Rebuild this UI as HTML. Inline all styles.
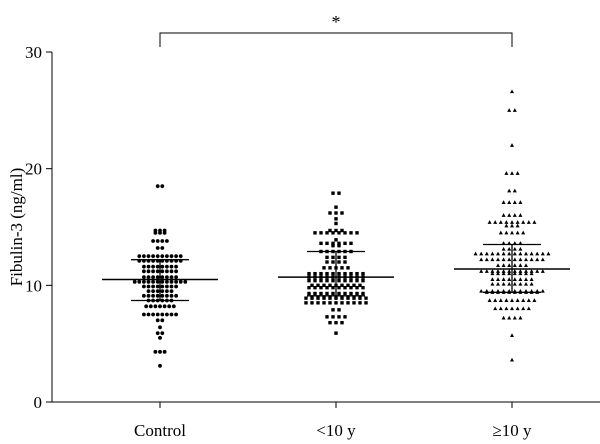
<!DOCTYPE html>
<html><head><meta charset="utf-8"><style>
body{margin:0;background:#fff}
svg{display:block;font-family:"Liberation Serif",serif}
</style></head><body>
<svg id="chart" width="600" height="444">
<g id="axes"></g>
<g id="marks"></g>
<g id="stats"></g>
<text x="22" y="227" font-size="17" text-anchor="middle" transform="rotate(-90 22 227)">Fibulin-3 (ng/ml)</text>
<path d="M160 47 V33 H512 V47" fill="none" stroke="#000" stroke-width="1"/>
<text x="336" y="28" font-size="18" text-anchor="middle">*</text>
</svg>
<script>
const categories = ["Control", "<10 y", "\u226510 y"];
const yTicks = [0, 10, 20, 30];
const ctrlVals = [18.5,14.7,14.5,13.8,13.2,12.5,12.1,11.6,11.2,10.7,10.3,9.9,9.5,9.1,8.7,8.2,7.5,7.0,6.4,5.9,5.5,4.3,3.1];
const ctrlCounts = [2,3,3,4,2,10,10,8,8,8,12,8,6,8,6,7,8,2,1,2,1,3,1];
const youngVals = [17.9,16.7,16.2,15.7,15.3,14.7,14.5,13.9,13.6,13.4,12.9,12.4,12.0,11.5,11.0,10.7,10.4,10.0,9.8,9.3,8.9,8.5,7.9,7.3,6.8,5.9];
const youngCounts = [2,1,3,1,1,3,8,1,6,2,6,4,4,5,10,10,10,9,10,10,11,11,2,4,3,1];
const oldVals = [26.6,25.0,22.0,19.6,18.1,17.1,16.0,15.4,15.1,14.5,13.6,13.1,12.7,12.2,11.7,11.2,11.0,10.5,10.1,9.5,9.4,8.7,8.0,7.2,5.7,3.6];
const oldCounts = [1,2,1,3,2,4,4,9,3,5,4,4,14,12,6,12,8,8,8,12,10,9,7,4,1,1];
const means = [10.5, 10.7, 11.4];
const upperSD = [12.2, 12.9, 13.5];
const lowerSD = [8.7, 9.1, 9.4];

const NS = "http://www.w3.org/2000/svg";
const y = v => 402 - v * 350 / 30;
const x = i => 160 + i * 176;
function mk(tag, attrs, parent){const e=document.createElementNS(NS,tag);for(const k in attrs)e.setAttribute(k,attrs[k]);parent.appendChild(e);return e;}
const axes=document.getElementById('axes'), marks=document.getElementById('marks'), stats=document.getElementById('stats');

let a=mk('line',{x1:52,y1:52,x2:52,y2:402,stroke:'#000','stroke-width':1},axes);


a=mk('line',{x1:52,y1:402,x2:600,y2:402,stroke:'#000','stroke-width':1},axes);


yTicks.forEach(t=>{
  const l=mk('line',{x1:46,y1:y(t),x2:52,y2:y(t),stroke:'#000'},axes);
  
  
  const tx=mk('text',{x:42,y:y(t)+6,'font-size':17,'text-anchor':'end'},axes);
  tx.textContent=t;
  
  
});
categories.forEach((c,i)=>{
  const l=mk('line',{x1:x(i),y1:402,x2:x(i),y2:408,stroke:'#000'},axes);
  
  
  const tx=mk('text',{x:x(i),y:436,'font-size':17,'text-anchor':'middle'},axes);
  tx.textContent=c;
  
  
});

function drawGroup(i, vals, counts, shape, sp){
  vals.forEach((v,k)=>{
    const n=counts[k];
    for(let j=0;j<n;j++){
      const cx=x(i)+(j-(n-1)/2)*sp, cy=y(v);
      let e;
      if(shape==='circle') e=mk('circle',{cx:cx,cy:cy,r:1.9,fill:'#000'},marks);
      else if(shape==='square') e=mk('rect',{x:cx-1.7,y:cy-1.7,width:3.4,height:3.4,fill:'#000'},marks);
      else e=mk('polygon',{points:`${cx},${cy-2.2} ${cx-2},${cy+1.5} ${cx+2},${cy+1.5}`,fill:'#000'},marks);
      
      
    }
  });
}
drawGroup(0, ctrlVals, ctrlCounts, 'circle', 4.6);
drawGroup(1, youngVals, youngCounts, 'square', 6);
drawGroup(2, oldVals, oldCounts, 'triangle', 5.6);

categories.forEach((c,i)=>{
  let e=mk('line',{x1:x(i)-58,x2:x(i)+58,y1:y(means[i]),y2:y(means[i]),stroke:'#000','stroke-width':1.5},stats);
  
  
  e=mk('line',{x1:x(i)-29,x2:x(i)+29,y1:y(upperSD[i]),y2:y(upperSD[i]),stroke:'#000','stroke-width':1.3},stats);
  
  
  e=mk('line',{x1:x(i)-29,x2:x(i)+29,y1:y(lowerSD[i]),y2:y(lowerSD[i]),stroke:'#000','stroke-width':1.3},stats);
  
  
  e=mk('line',{x1:x(i),x2:x(i),y1:y(upperSD[i]),y2:y(lowerSD[i]),stroke:'#000','stroke-width':1.3},stats);
  
  
});
</script>
</body></html>
